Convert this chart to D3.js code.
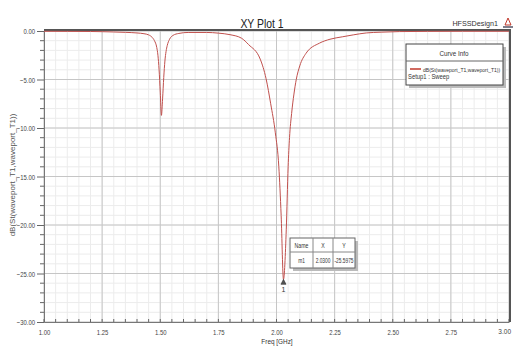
<!DOCTYPE html>
<html>
<head>
<meta charset="utf-8">
<script src="https://cdn.jsdelivr.net/npm/d3@7"></script>
<style>
  html, body { margin: 0; padding: 0; background: #fff; }
  svg { display: block; font-family: "Liberation Sans", Arial, sans-serif; }
</style>
</head>
<body>
<svg id="chart" width="514" height="352"></svg>
<script>
'use strict';

// S11 sweep (GHz, dB)
const freq_ghz = [1.00, 1.10, 1.20, 1.25, 1.30, 1.35, 1.40, 1.43, 1.45, 1.465, 1.475, 1.485, 1.49, 1.495, 1.50, 1.505,
                  1.51, 1.515, 1.52, 1.525, 1.53, 1.54, 1.555, 1.58, 1.62, 1.70, 1.75, 1.80, 1.85, 1.88, 1.93, 1.955,
                  1.975, 1.995, 2.01, 2.02, 2.03, 2.042, 2.05, 2.056, 2.065, 2.075, 2.085, 2.10, 2.127, 2.185, 2.23,
                  2.283, 2.33, 2.386, 2.45, 2.53, 2.65, 2.80, 3.00];
const s11_db = [-0.03, -0.04, -0.05, -0.07, -0.10, -0.14, -0.20, -0.28, -0.40, -0.65, -1.0, -1.7, -2.5, -4.0, -6.3, -8.7,
                -7.0, -4.8, -3.1, -2.1, -1.5, -0.85, -0.45, -0.25, -0.15, -0.15, -0.22, -0.38, -0.75, -1.4, -2.9, -4.9,
                -7.5, -10.5, -14.0, -19.0, -25.6, -20.5, -14.0, -11.0, -8.5, -6.5, -5.0, -3.6, -2.3, -1.25, -0.85,
                -0.6, -0.4, -0.2, -0.12, -0.06, -0.04, -0.03, -0.03];

const x_ticks = [1.00, 1.25, 1.50, 1.75, 2.00, 2.25, 2.50, 2.75, 3.00];
const y_ticks = [0, -5, -10, -15, -20, -25, -30];

const marker_header = ['Name', 'X', 'Y'];
const marker_row = ['m1', '2.0300', '-25.5975'];
const marker_freq = 2.03;
const marker_db = -25.6;

const legend_title = 'Curve Info';
const legend_curve = 'dB(St(waveport_T1,waveport_T1))';
const legend_setup = 'Setup1 : Sweep';

const svg = d3.select('#chart');
const margin = { left: 44, right: 509, top: 31, bottom: 322 };

// the original renders a condensed face; squeeze a label horizontally
const squeeze = (sel, k) => sel.each(function() {
    const w = this.getComputedTextLength();
    d3.select(this).attr('textLength', w * k).attr('lengthAdjust', 'spacingAndGlyphs');
});

const x = d3.scaleLinear().domain([1, 3]).range([margin.left, margin.right]);
const y = d3.scaleLinear().domain([-30, 0]).range([margin.bottom, margin.top]);

// grid: minor then major
const grid = svg.append('g').attr('class', 'grid');
const x_minor = d3.range(1, 3.0001, 0.05);
const y_minor = d3.range(-30, 0.0001, 1);

grid.selectAll('.xm').data(x_minor).enter().append('line')
    .attr('x1', d => x(d)).attr('x2', d => x(d))
    .attr('y1', margin.top).attr('y2', margin.bottom)
    .attr('stroke', '#ececec').attr('stroke-width', 1);
grid.selectAll('.ym').data(y_minor).enter().append('line')
    .attr('x1', margin.left).attr('x2', margin.right)
    .attr('y1', d => y(d)).attr('y2', d => y(d))
    .attr('stroke', '#ececec').attr('stroke-width', 1);
grid.selectAll('.xM').data(x_ticks).enter().append('line')
    .attr('x1', d => x(d)).attr('x2', d => x(d))
    .attr('y1', margin.top).attr('y2', margin.bottom)
    .attr('stroke', '#c6c6c6').attr('stroke-width', 1);
grid.selectAll('.yM').data(y_ticks).enter().append('line')
    .attr('x1', margin.left).attr('x2', margin.right)
    .attr('y1', d => y(d)).attr('y2', d => y(d))
    .attr('stroke', '#c6c6c6').attr('stroke-width', 1);

// axes
const y_axis = svg.append('g')
    .attr('transform', `translate(${margin.left},0)`)
    .call(d3.axisLeft(y).tickValues(y_ticks).tickFormat(d3.format('.2f')).tickSize(7).tickPadding(2));
const x_axis = svg.append('g')
    .attr('transform', `translate(0,${margin.bottom})`)
    .call(d3.axisBottom(x).tickValues(x_ticks).tickFormat(d3.format('.2f')).tickSize(0).tickPadding(7));

[y_axis, x_axis].forEach(ax => {
    ax.select('.domain').attr('stroke', '#777');
    ax.selectAll('line').attr('stroke', '#666');
    ax.selectAll('text').attr('fill', '#444').style('font-size', '8px');
    squeeze(ax.selectAll('text').filter(d => d !== 3), 0.74);
});
// last frequency label sits against the window edge: smaller face, right-aligned
x_axis.selectAll('.tick').filter(d => d === 3).select('text')
    .style('font-size', '6.5px').attr('text-anchor', 'end').attr('x', 1.5);

// minor ticks
svg.append('g').selectAll('line').data(y_minor.filter(d => d % 5 !== 0)).enter().append('line')
    .attr('x1', margin.left - 4).attr('x2', margin.left)
    .attr('y1', d => y(d)).attr('y2', d => y(d))
    .attr('stroke', '#666');
svg.append('g').selectAll('line').data(x_minor).enter().append('line')
    .attr('x1', d => x(d)).attr('x2', d => x(d))
    .attr('y1', margin.bottom).attr('y2', margin.bottom - 3)
    .attr('stroke', '#666');

// frame: heavy top and right
svg.append('line').attr('x1', margin.left).attr('x2', margin.right + 1)
    .attr('y1', margin.top - 1).attr('y2', margin.top - 1)
    .attr('stroke', '#555').attr('stroke-width', 2);
svg.append('line').attr('x1', margin.right + 1).attr('x2', margin.right + 1)
    .attr('y1', margin.top - 2).attr('y2', margin.bottom)
    .attr('stroke', '#555').attr('stroke-width', 2);

// curve
const data = freq_ghz.map((f, i) => ({ f, v: s11_db[i] }));
const line = d3.line().x(d => x(d.f)).y(d => y(d.v)).curve(d3.curveMonotoneX);
svg.append('path').datum(data)
    .attr('d', line)
    .attr('fill', 'none')
    .attr('stroke', '#c0504d')
    .attr('stroke-width', 1);

// marker
const mx = x(marker_freq), my = y(marker_db);
svg.append('path')
    .attr('d', `M${mx},${my} l-2.5,5 l5,0 z`)
    .attr('fill', '#555').attr('stroke', '#333').attr('stroke-width', 0.6);
svg.append('text').attr('x', mx).attr('y', my + 13).attr('text-anchor', 'middle')
    .style('font-size', '7px').attr('fill', '#333').text('1');

// marker table
const tbl = svg.append('g').attr('transform', 'translate(290,238)');
const col_x = [0, 23, 43, 65];
tbl.append('rect').attr('x', 3).attr('y', 3).attr('width', col_x[3]).attr('height', 30).attr('fill', '#bbb');
tbl.append('rect').attr('width', col_x[3]).attr('height', 30).attr('fill', '#fff').attr('stroke', '#666');
tbl.append('line').attr('x1', 0).attr('x2', col_x[3]).attr('y1', 14).attr('y2', 14).attr('stroke', '#888');
[col_x[1], col_x[2]].forEach(cx => tbl.append('line')
    .attr('x1', cx).attr('x2', cx).attr('y1', 0).attr('y2', 30).attr('stroke', '#888'));
[marker_header, marker_row].forEach((row, r) => {
    row.forEach((t, c) => tbl.append('text')
        .attr('x', (col_x[c] + col_x[c + 1]) / 2).attr('y', r ? 25 : 10)
        .attr('text-anchor', 'middle')
        .style('font-size', r ? '6.5px' : '7px')
        .attr('fill', '#333').text(t));
});
squeeze(tbl.selectAll('text'), 0.74);

// legend
const lg = svg.append('g').attr('transform', 'translate(406,44)');
lg.append('rect').attr('x', 3).attr('y', 3).attr('width', 97).attr('height', 41).attr('fill', '#bbb');
lg.append('rect').attr('width', 97).attr('height', 41).attr('fill', '#fff').attr('stroke', '#444');
lg.append('text').attr('x', 48).attr('y', 12).attr('text-anchor', 'middle')
    .style('font-size', '7px').attr('fill', '#333').text(legend_title);
lg.append('line').attr('x1', 0).attr('x2', 97).attr('y1', 17).attr('y2', 17).attr('stroke', '#666');
lg.append('line').attr('x1', 4).attr('x2', 15).attr('y1', 25).attr('y2', 25)
    .attr('stroke', '#c0392b').attr('stroke-width', 1.5);
lg.append('text').attr('x', 17).attr('y', 27.5).style('font-size', '5.6px').attr('fill', '#333').text(legend_curve);
lg.append('text').attr('x', 2).attr('y', 35).style('font-size', '6.5px').attr('fill', '#333').text(legend_setup);
squeeze(lg.selectAll('text'), 0.9);

// titles
svg.append('text').attr('x', 262).attr('y', 28).attr('text-anchor', 'middle')
    .style('font-size', '13px').attr('fill', '#222').text('XY Plot 1')
    .call(squeeze, 0.8);
svg.append('text').attr('x', 498).attr('y', 26).attr('text-anchor', 'end')
    .style('font-size', '8px').attr('fill', '#333').text('HFSSDesign1')
    .call(squeeze, 0.9);
svg.append('path').attr('d', 'M505,25 l3,-7 l3,7 z').attr('fill', 'none').attr('stroke', '#c0392b').attr('stroke-width', 1);
svg.append('line').attr('x1', 503).attr('x2', 513).attr('y1', 27).attr('y2', 27).attr('stroke', '#556').attr('stroke-width', 1.5);

svg.append('text').attr('x', 277).attr('y', 344).attr('text-anchor', 'middle')
    .style('font-size', '8px').attr('fill', '#333').text('Freq [GHz]')
    .call(squeeze, 0.8);
svg.append('text').attr('transform', 'translate(15,175) rotate(-90)').attr('text-anchor', 'middle')
    .style('font-size', '8px').attr('fill', '#555').text(legend_curve);
</script>
</body>
</html>
